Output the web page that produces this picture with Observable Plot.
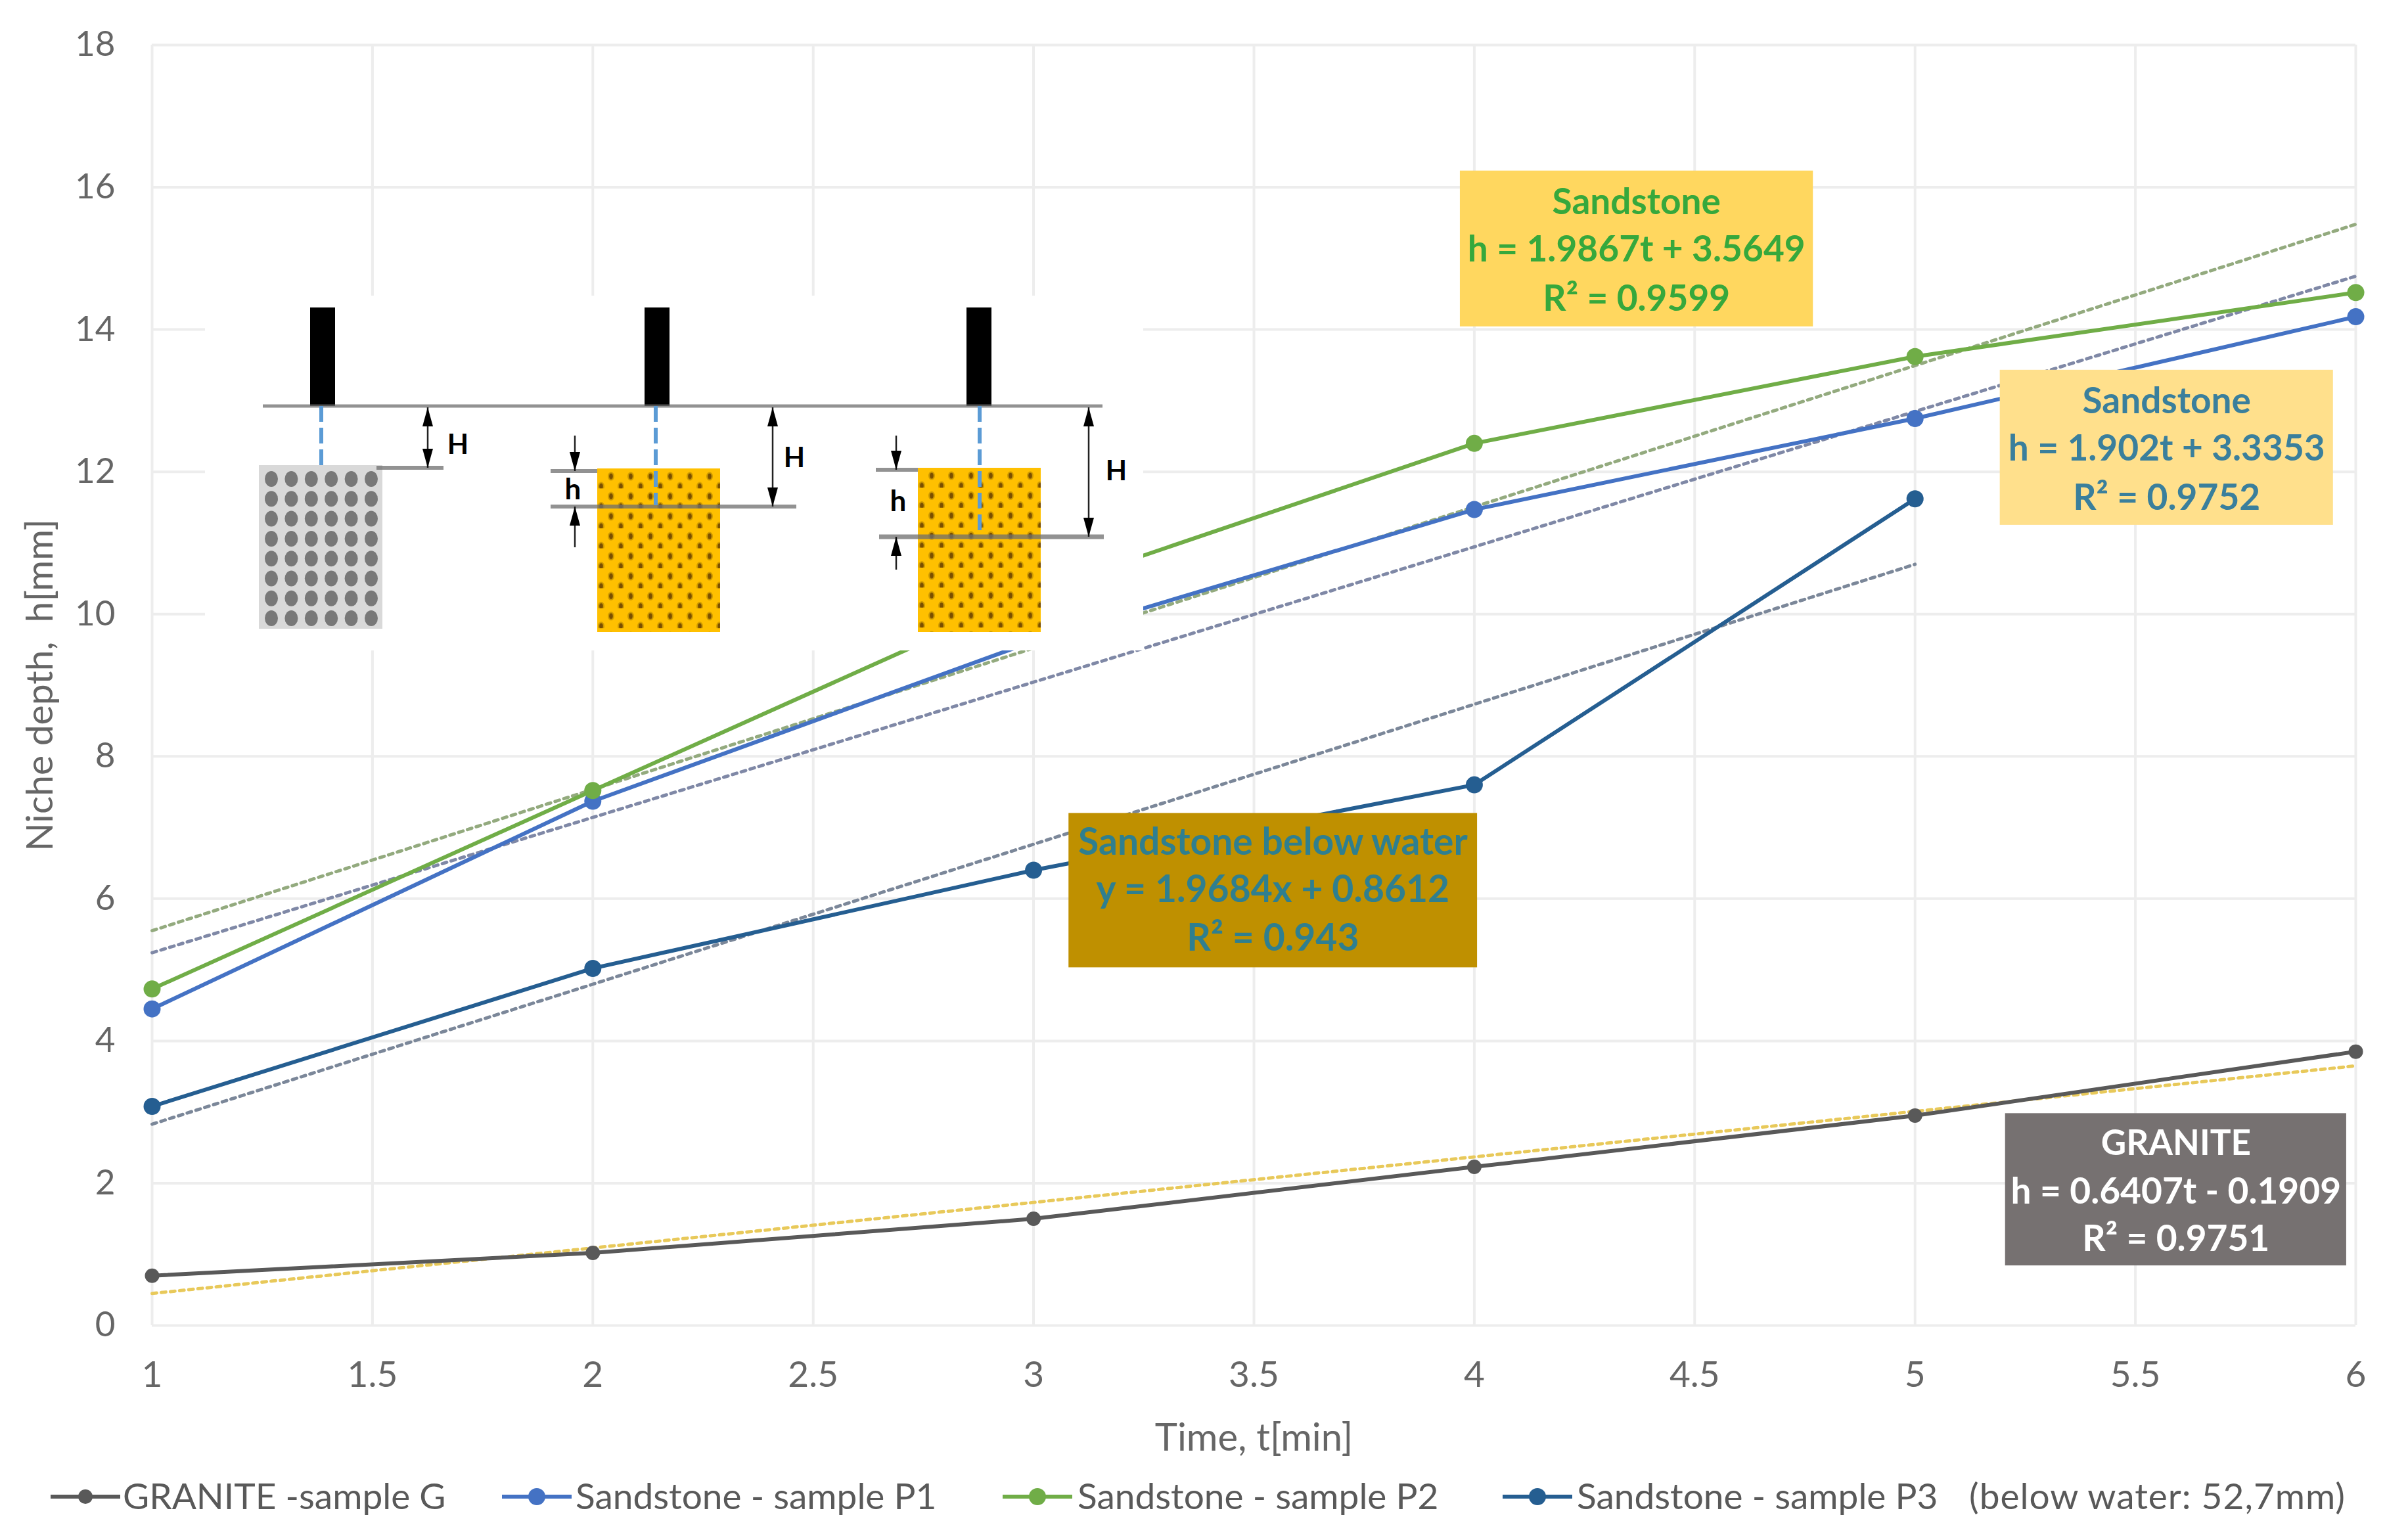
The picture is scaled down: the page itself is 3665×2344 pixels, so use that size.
<!DOCTYPE html>
<html>
<head>
<meta charset="utf-8">
<script src="https://cdn.jsdelivr.net/npm/d3@7"></script>
<script src="https://cdn.jsdelivr.net/npm/@observablehq/plot@0.6"></script>
<style>
html,body{margin:0;padding:0;background:#fff;}
#chart svg{display:block;}
#legend{position:relative;width:3665px;height:110px;font-family:Lato,sans-serif;font-size:55px;color:#595959;}
#legend .k{position:absolute;top:19px;}
#legend .t{position:absolute;top:12px;white-space:pre;line-height:60px;}
</style>
</head>
<body>
<div id="chart"></div>
<div id="legend"></div>
<script>
const time = [1, 2, 3, 4, 5, 6];
const xTicks = [1, 1.5, 2, 2.5, 3, 3.5, 4, 4.5, 5, 5.5, 6];
const yTicks = [0, 2, 4, 6, 8, 10, 12, 14, 16, 18];

const granite = [0.7, 1.02, 1.5, 2.23, 2.95, 3.85];
const sandstoneP1 = [4.45, 7.37, 9.62, 11.47, 12.75, 14.18];
const sandstoneP2 = [4.73, 7.52, 10.3, 12.4, 13.62, 14.52];
const sandstoneP3 = [3.08, 5.02, 6.4, 7.6, 11.62];

const trendGranite = [[1, 0.45], [6, 3.65]];
const trendP1 = [[1, 5.24], [6, 14.75]];
const trendP2 = [[1, 5.55], [6, 15.48]];
const trendP3 = [[1, 2.83], [5, 10.7]];

const seriesNames = ["GRANITE -sample G", "Sandstone - sample P1", "Sandstone - sample P2", "Sandstone - sample P3"];
const legendNote = "(below water: 52,7mm)";
const seriesColors = ["#595959", "#4472c4", "#70ad47", "#255e91"];
const trendColors = ["#e8c95a", "#7f88a6", "#93aa7e", "#7b8799"];

const noteBoxes = [
  {x1: 3.968, x2: 4.769, y1: 14.04, y2: 16.23, fill: "#ffd75f"},
  {x1: 5.193, x2: 5.949, y1: 11.25, y2: 13.43, fill: "#ffe08c"},
  {x1: 3.08, x2: 4.007, y1: 5.03, y2: 7.2, fill: "#bf9000"},
  {x1: 5.205, x2: 5.979, y1: 0.84, y2: 2.98, fill: "#767171"}
];
const noteLines = [
  {t: 4.368, v: 15.78, s: "Sandstone", c: "#36a83c", z: 55},
  {t: 4.368, v: 15.12, s: "h = 1.9867t + 3.5649", c: "#36a83c", z: 55},
  {t: 4.368, v: 14.43, s: "R² = 0.9599", c: "#36a83c", z: 55},
  {t: 5.571, v: 12.99, s: "Sandstone", c: "#3a7f9c", z: 55},
  {t: 5.571, v: 12.32, s: "h = 1.902t + 3.3353", c: "#3a7f9c", z: 55},
  {t: 5.571, v: 11.63, s: "R² = 0.9752", c: "#3a7f9c", z: 55},
  {t: 3.543, v: 6.79, s: "Sandstone below water", c: "#2f7f8f", z: 57},
  {t: 3.543, v: 6.12, s: "y = 1.9684x + 0.8612", c: "#2f7f8f", z: 57},
  {t: 3.543, v: 5.44, s: "R² = 0.943", c: "#2f7f8f", z: 57},
  {t: 5.592, v: 2.55, s: "GRANITE", c: "#ffffff", z: 53},
  {t: 5.592, v: 1.88, s: "h = 0.6407t - 0.1909", c: "#ffffff", z: 55},
  {t: 5.592, v: 1.21, s: "R² = 0.9751", c: "#ffffff", z: 55}
];

const toPoints = (values, i) => values.map((v, k) => ({t: time[k], v, i}));
const solid = [granite, sandstoneP1, sandstoneP2, sandstoneP3];
const trends = [trendGranite, trendP1, trendP2, trendP3];

/* Explanatory drawing pasted over the chart: an illustration in its own local page units. */
function insetDrawing() {
  const g = d3.create("svg:g");
  const defs = g.append("defs");
  const makePattern = (id, px, py) => {
    const pat = defs.append("pattern").attr("id", id).attr("patternUnits", "userSpaceOnUse")
      .attr("x", px).attr("y", py).attr("width", 30).attr("height", 30.4);
    pat.append("rect").attr("width", 30).attr("height", 30.4).attr("fill", "#ffc000");
    [[21, 12], [6, 27.2]].forEach(([cx, cy]) => {
      pat.append("ellipse").attr("cx", cx).attr("cy", cy).attr("rx", 5).attr("ry", 6.5).attr("fill", "#cf9a00");
      pat.append("ellipse").attr("cx", cx).attr("cy", cy).attr("rx", 2.8).attr("ry", 4.5).attr("fill", "#7a4f00");
    });
  };
  makePattern("sandA", 909, 713);
  makePattern("sandB", 1397, 712);
  g.append("rect").attr("x", 312).attr("y", 450).attr("width", 1428).attr("height", 540).attr("fill", "#fff");

  const line = (x1, y1, x2, y2, c, w, dash) => g.append("line").attr("x1", x1).attr("y1", y1).attr("x2", x2).attr("y2", y2)
    .attr("stroke", c).attr("stroke-width", w).attr("stroke-dasharray", dash || null);
  const head = (x, y, dir) => g.append("path").attr("fill", "#000")
    .attr("d", `M${x},${y} l-8,${-dir * 29} l16,0 z`);
  const label = (x, y, s, size) => g.append("text").attr("x", x).attr("y", y).text(s)
    .attr("font-family", "Lato,sans-serif").attr("font-weight", 700).attr("font-size", size)
    .attr("text-anchor", "middle").attr("dominant-baseline", "middle").attr("fill", "#000");

  // granite block
  g.append("rect").attr("x", 394).attr("y", 708).attr("width", 188).attr("height", 249).attr("fill", "#d9d9d9");
  for (let r = 0; r < 8; ++r) for (let c = 0; c < 6; ++c) {
    const x = 413 + c * 30.4, y = 729 + r * 30.3;
    g.append("ellipse").attr("fill", "#787878").attr("cx", x).attr("cy", y).attr("rx", 10).attr("ry", 12);
  }
  // sandstone blocks
  g.append("rect").attr("x", 909).attr("y", 713).attr("width", 187).attr("height", 249).attr("fill", "url(#sandA)");
  g.append("rect").attr("x", 1397).attr("y", 712).attr("width", 187).attr("height", 250).attr("fill", "url(#sandB)");
  // tools
  [472, 981, 1471].forEach(x => g.append("rect").attr("x", x).attr("y", 468).attr("width", 38).attr("height", 150).attr("fill", "#000"));
  // levels
  const grey = "rgba(110,110,110,0.75)";
  line(400, 618, 1678, 618, grey, 5);
  line(573, 712, 675, 712, grey, 6);
  line(838, 717, 909, 717, grey, 6);
  line(838, 771, 1212, 771, grey, 6);
  line(1333, 715, 1397, 715, grey, 6);
  line(1338, 817, 1680, 817, grey, 7);
  // beams
  line(489, 618, 489, 716, "#5b9bd5", 6, "24 9");
  line(998, 618, 998, 769, "#5b9bd5", 6, "24 9");
  line(1491, 618, 1491, 816, "#5b9bd5", 6, "24 9");
  // dimension arrows
  [[651, 712], [1176, 771], [1657, 817]].forEach(([x, y]) => {
    line(x, 620, x, y, "#222", 2.5);
    head(x, 620, -1);
    head(x, y, 1);
  });
  [[875, 717, 771, 833], [1364, 715, 817, 867]].forEach(([x, top, bot, end]) => {
    line(x, 663, x, top, "#222", 2.5);
    head(x, top, 1);
    line(x, bot, x, end, "#222", 2.5);
    head(x, bot, -1);
  });
  label(697, 680, "H", 42);
  label(1209, 700, "H", 42);
  label(1699, 720, "H", 42);
  label(872, 749, "h", 44);
  label(1367, 767, "h", 44);
  return g.node();
}

const gridStyle = {stroke: "#ededed", strokeOpacity: 1, strokeWidth: 4};

const chart = Plot.plot({
  width: 3665,
  height: 2234,
  marginLeft: 231,
  marginRight: 80,
  marginTop: 68,
  marginBottom: 217,
  style: {fontFamily: "Lato,sans-serif", background: "#fff", overflow: "visible"},
  x: {domain: [1, 6]},
  y: {domain: [0, 18]},
  marks: [
    Plot.ruleX(xTicks, gridStyle),
    Plot.ruleY(yTicks, gridStyle),
    Plot.axisY({ticks: yTicks, tickSize: 0, tickPadding: 56, fontSize: 53, color: "#666666", label: null}),
    Plot.axisY({
      ticks: [], tickSize: 0, fontSize: 57, color: "#666666",
      label: "Niche depth,  h[mm]", labelAnchor: "center", labelArrow: "none", labelOffset: 192
    }),
    Plot.axisX({ticks: xTicks, tickSize: 0, tickPadding: 54, tickFormat: String, fontSize: 55, color: "#666666", label: null}),
    Plot.axisX({
      ticks: [], tickSize: 0, fontSize: 58, color: "#666666",
      label: "Time, t[min]", labelAnchor: "center", labelArrow: "none", labelOffset: 190
    }),
    ...trends.map((pts, i) => Plot.line(pts, {
      x: d => d[0], y: d => d[1], stroke: trendColors[i], strokeWidth: 5, strokeDasharray: "7 7"
    })),
    ...solid.map((vals, i) => Plot.line(toPoints(vals, i), {
      x: "t", y: "v", stroke: seriesColors[i], strokeWidth: 6
    })),
    ...solid.map((vals, i) => Plot.dot(toPoints(vals, i), {
      x: "t", y: "v", fill: seriesColors[i], r: i === 0 ? 11 : 13, clip: false
    })),
    insetDrawing,
    Plot.rect(noteBoxes, {x1: "x1", x2: "x2", y1: "y1", y2: "y2", fill: "fill"}),
    Plot.text(noteLines, {x: "t", y: "v", text: "s", fill: "c", fontSize: "z", fontWeight: 700})
  ]
});
document.getElementById("chart").appendChild(chart);

/* Legend under the SVG */
const legendItems = [
  {key: 77, text: 187},
  {key: 764, text: 876},
  {key: 1526, text: 1640},
  {key: 2287, text: 2400}
];
const legend = d3.select("#legend");
legendItems.forEach((it, i) => {
  const s = legend.append("svg").attr("class", "k").attr("width", 106).attr("height", 50).style("left", it.key + "px");
  s.append("line").attr("x1", 0).attr("x2", 106).attr("y1", 25).attr("y2", 25).attr("stroke", seriesColors[i]).attr("stroke-width", 6);
  s.append("circle").attr("cx", 53).attr("cy", 25).attr("r", i === 0 ? 11 : 13).attr("fill", seriesColors[i]);
  legend.append("span").attr("class", "t").style("left", it.text + "px").text(seriesNames[i]);
});
legend.append("span").attr("class", "t").style("left", "2997px").style("letter-spacing", "1px").text(legendNote);
</script>
</body>
</html>
